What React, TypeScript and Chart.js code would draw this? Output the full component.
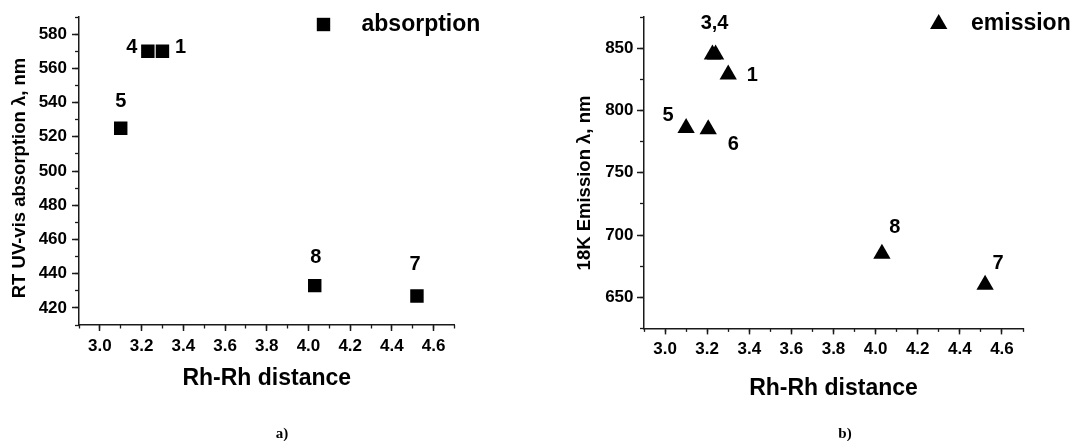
import React, { useEffect, useRef } from 'react';
import { Chart, registerables } from 'chart.js';

Chart.register(...registerables);

// ---------- Data: panel a) RT UV-vis absorption ----------
const absCompounds = ['5', '4', '1', '8', '7'];
const absDistance = [3.1, 3.23, 3.3, 4.03, 4.52];
const absWavelength = [525, 570, 570, 433, 427];

// ---------- Data: panel b) 18K emission ----------
const emiCompounds = ['5', '6', '', '3,4', '1', '8', '7'];
const emiDistance = [3.1, 3.205, 3.225, 3.24, 3.3, 4.03, 4.52];
const emiWavelength = [786, 785, 845, 845, 829, 685, 660];

// ---------- Tick labels ----------
const distanceTicks = [3.0, 3.2, 3.4, 3.6, 3.8, 4.0, 4.2, 4.4, 4.6];
const distanceMinorTicks = [2.9, 3.0, 3.1, 3.2, 3.3, 3.4, 3.5, 3.6, 3.7, 3.8, 3.9, 4.0, 4.1, 4.2, 4.3, 4.4, 4.5, 4.6, 4.7];
const absTicks = [420, 440, 460, 480, 500, 520, 540, 560, 580];
const absMinorTicks = [410, 420, 430, 440, 450, 460, 470, 480, 490, 500, 510, 520, 530, 540, 550, 560, 570, 580, 590];
const emiTicks = [650, 700, 750, 800, 850];
const emiMinorTicks = [625, 650, 675, 700, 725, 750, 775, 800, 825, 850, 875];

const FONT = '"Liberation Sans", Arial, Helvetica, sans-serif';
const INK = '#000';
const AXIS = '#1a1a1a';

type Panel = {
  left: number;
  width: number;
  pad: { top: number; right: number };
  yWidth: number;
  xHeight: number;
  xRange: [number, number];
  yRange: [number, number];
  yTicks: number[];
  yMinor: number[];
  yTitle: string;
  yTitlePos: [number, number];
  xTitlePad: number;
  yLabelPad: number;
  xs: number[];
  ys: number[];
  names: string[];
  labelOffsets: [number, number][];
  marker: 'rect' | 'triangle';
  markerRadius: number;
  legend: { text: string; mx: number; my: number; tx: number };
};

const panels: Panel[] = [
  {
    left: 0,
    width: 540,
    pad: { top: 17, right: 85.5 },
    yWidth: 79,
    xHeight: 116,
    xRange: [2.9, 4.7],
    yRange: [410, 590],
    yTicks: absTicks,
    yMinor: absMinorTicks,
    yTitle: 'RT UV-vis absorption λ, nm',
    yTitlePos: [20, 178],
    xTitlePad: 50.5,
    yLabelPad: 5,
    xs: absDistance,
    ys: absWavelength,
    names: absCompounds,
    labelOffsets: [[0, -27], [-16, -4], [18, -4], [1, -28], [-2, -31]],
    marker: 'rect',
    markerRadius: 9.5,
    legend: { text: 'absorption', mx: 323.5, my: 24.5, tx: 361.5 },
  },
  {
    left: 540,
    width: 539,
    pad: { top: 17.2, right: 56 },
    yWidth: 104,
    xHeight: 112.6,
    xRange: [2.9, 4.7],
    yRange: [625, 875],
    yTicks: emiTicks,
    yMinor: emiMinorTicks,
    yTitle: '18K Emission λ, nm',
    yTitlePos: [45, 183],
    xTitlePad: 40.5,
    yLabelPad: 3.5,
    xs: emiDistance,
    ys: emiWavelength,
    names: emiCompounds,
    labelOffsets: [[-18, -13], [25, 15], [0, 0], [-1, -31], [24, 1], [13, -26], [13, -21]],
    marker: 'triangle',
    markerRadius: 10,
    legend: { text: 'emission', mx: 398.7, my: 24, tx: 431 },
  },
];

function makeDecorPlugin(p: Panel) {
  return {
    id: 'decor' + p.left,
    afterDatasetsDraw(chart: any) {
      const ctx: CanvasRenderingContext2D = chart.ctx;
      const meta = chart.getDatasetMeta(0);
      ctx.save();
      ctx.fillStyle = INK;
      ctx.textAlign = 'center';
      ctx.textBaseline = 'middle';
      ctx.font = `bold 20px ${FONT}`;
      meta.data.forEach((el: any, i: number) => {
        const t = p.names[i];
        if (!t) return;
        const [dx, dy] = p.labelOffsets[i];
        ctx.fillText(t, el.x + dx, el.y + dy);
      });
      // y axis title
      ctx.save();
      ctx.translate(p.yTitlePos[0], p.yTitlePos[1]);
      ctx.rotate(-Math.PI / 2);
      ctx.font = `bold 18.5px ${FONT}`;
      ctx.fillText(p.yTitle, 0, 0);
      ctx.restore();
      // legend
      const { mx, my, tx, text } = p.legend;
      ctx.beginPath();
      if (p.marker === 'rect') {
        ctx.rect(mx - 6.7, my - 6.7, 13.4, 13.4);
      } else {
        const r = p.markerRadius;
        ctx.moveTo(mx, my - r);
        ctx.lineTo(mx + r * Math.sin((2 * Math.PI) / 3), my + r / 2);
        ctx.lineTo(mx - r * Math.sin((2 * Math.PI) / 3), my + r / 2);
        ctx.closePath();
      }
      ctx.fill();
      ctx.textAlign = 'left';
      ctx.font = `bold 23px ${FONT}`;
      ctx.fillText(text, tx, my);
      ctx.restore();
    },
  };
}

function PanelChart({ p }: { p: Panel }) {
  const ref = useRef<HTMLCanvasElement | null>(null);
  useEffect(() => {
    if (!ref.current) return;
    const tickFont = { family: FONT, size: 17, weight: 'bold' as const, lineHeight: 1.2 };
    const chart = new Chart(ref.current, {
      type: 'scatter',
      data: {
        datasets: [
          {
            label: p.legend.text,
            data: p.xs.map((x, i) => ({ x, y: p.ys[i] })),
            pointStyle: p.marker,
            pointRadius: p.markerRadius,
            pointBackgroundColor: INK,
            pointBorderColor: INK,
            pointBorderWidth: 0,
            showLine: false,
          },
        ],
      },
      options: {
        animation: false,
        responsive: false,
        events: [],
        layout: { padding: { top: p.pad.top, right: p.pad.right, left: 0, bottom: 0 } },
        plugins: { legend: { display: false }, tooltip: { enabled: false } },
        scales: {
          x: {
            type: 'linear',
            position: 'bottom',
            weight: 1,
            min: p.xRange[0],
            max: p.xRange[1],
            afterBuildTicks: (s: any) => {
              s.ticks = distanceTicks.map((v) => ({ value: v }));
            },
            afterFit: (s: any) => {
              s.height = p.xHeight;
            },
            grid: { drawOnChartArea: false, drawTicks: true, tickLength: 6, tickColor: AXIS, tickWidth: 1.5 },
            border: { display: true, color: AXIS, width: 1.5 },
            ticks: {
              color: INK,
              font: tickFont,
              padding: 5,
              maxRotation: 0,
              autoSkip: false,
              callback: (v: any) => Number(v).toFixed(1),
            },
            title: {
              display: true,
              text: 'Rh-Rh distance',
              color: INK,
              font: { family: FONT, size: 23, weight: 'bold', lineHeight: 1 },
              padding: { top: 0, bottom: p.xTitlePad },
            },
          },
          xm: {
            type: 'linear',
            position: 'bottom',
            weight: 0,
            min: p.xRange[0],
            max: p.xRange[1],
            afterBuildTicks: (s: any) => {
              s.ticks = distanceMinorTicks.map((v) => ({ value: v }));
            },
            afterFit: (s: any) => {
              s.height = 0;
            },
            grid: { drawOnChartArea: false, drawTicks: true, tickLength: 3.5, tickColor: AXIS, tickWidth: 1.3 },
            border: { display: false },
            ticks: { display: false },
          },
          y: {
            type: 'linear',
            position: 'left',
            weight: 1,
            min: p.yRange[0],
            max: p.yRange[1],
            afterBuildTicks: (s: any) => {
              s.ticks = p.yTicks.map((v) => ({ value: v }));
            },
            afterFit: (s: any) => {
              s.width = p.yWidth;
            },
            grid: { drawOnChartArea: false, drawTicks: true, tickLength: 7, tickColor: AXIS, tickWidth: 1.5 },
            border: { display: true, color: AXIS, width: 1.5 },
            ticks: { color: INK, font: tickFont, padding: p.yLabelPad, autoSkip: false },
            title: { display: false },
          },
          ym: {
            type: 'linear',
            position: 'left',
            weight: 0,
            min: p.yRange[0],
            max: p.yRange[1],
            afterBuildTicks: (s: any) => {
              s.ticks = p.yMinor.map((v) => ({ value: v }));
            },
            afterFit: (s: any) => {
              s.width = 0;
            },
            grid: { drawOnChartArea: false, drawTicks: true, tickLength: 4, tickColor: AXIS, tickWidth: 1.3 },
            border: { display: false },
            ticks: { display: false },
          },
        },
      } as any,
      plugins: [makeDecorPlugin(p)],
    });
    return () => chart.destroy();
  }, [p]);
  return (
    <canvas
      ref={ref}
      width={p.width}
      height={441}
      style={{ position: 'absolute', left: p.left, top: 0, width: p.width, height: 441 }}
    />
  );
}

export default function App() {
  const caption: React.CSSProperties = {
    position: 'absolute',
    top: 424,
    fontFamily: '"Liberation Serif", "Times New Roman", serif',
    fontWeight: 'bold',
    fontSize: 15,
    lineHeight: '18px',
    color: '#000',
    transform: 'translateX(-50%)',
  };
  return (
    <div style={{ position: 'fixed', left: 0, top: 0, width: 1079, height: 441, background: '#fff', overflow: 'hidden' }}>
      {panels.map((p) => (
        <PanelChart key={p.left} p={p} />
      ))}
      <div style={{ ...caption, left: 282 }}>a)</div>
      <div style={{ ...caption, left: 845 }}>b)</div>
    </div>
  );
}
